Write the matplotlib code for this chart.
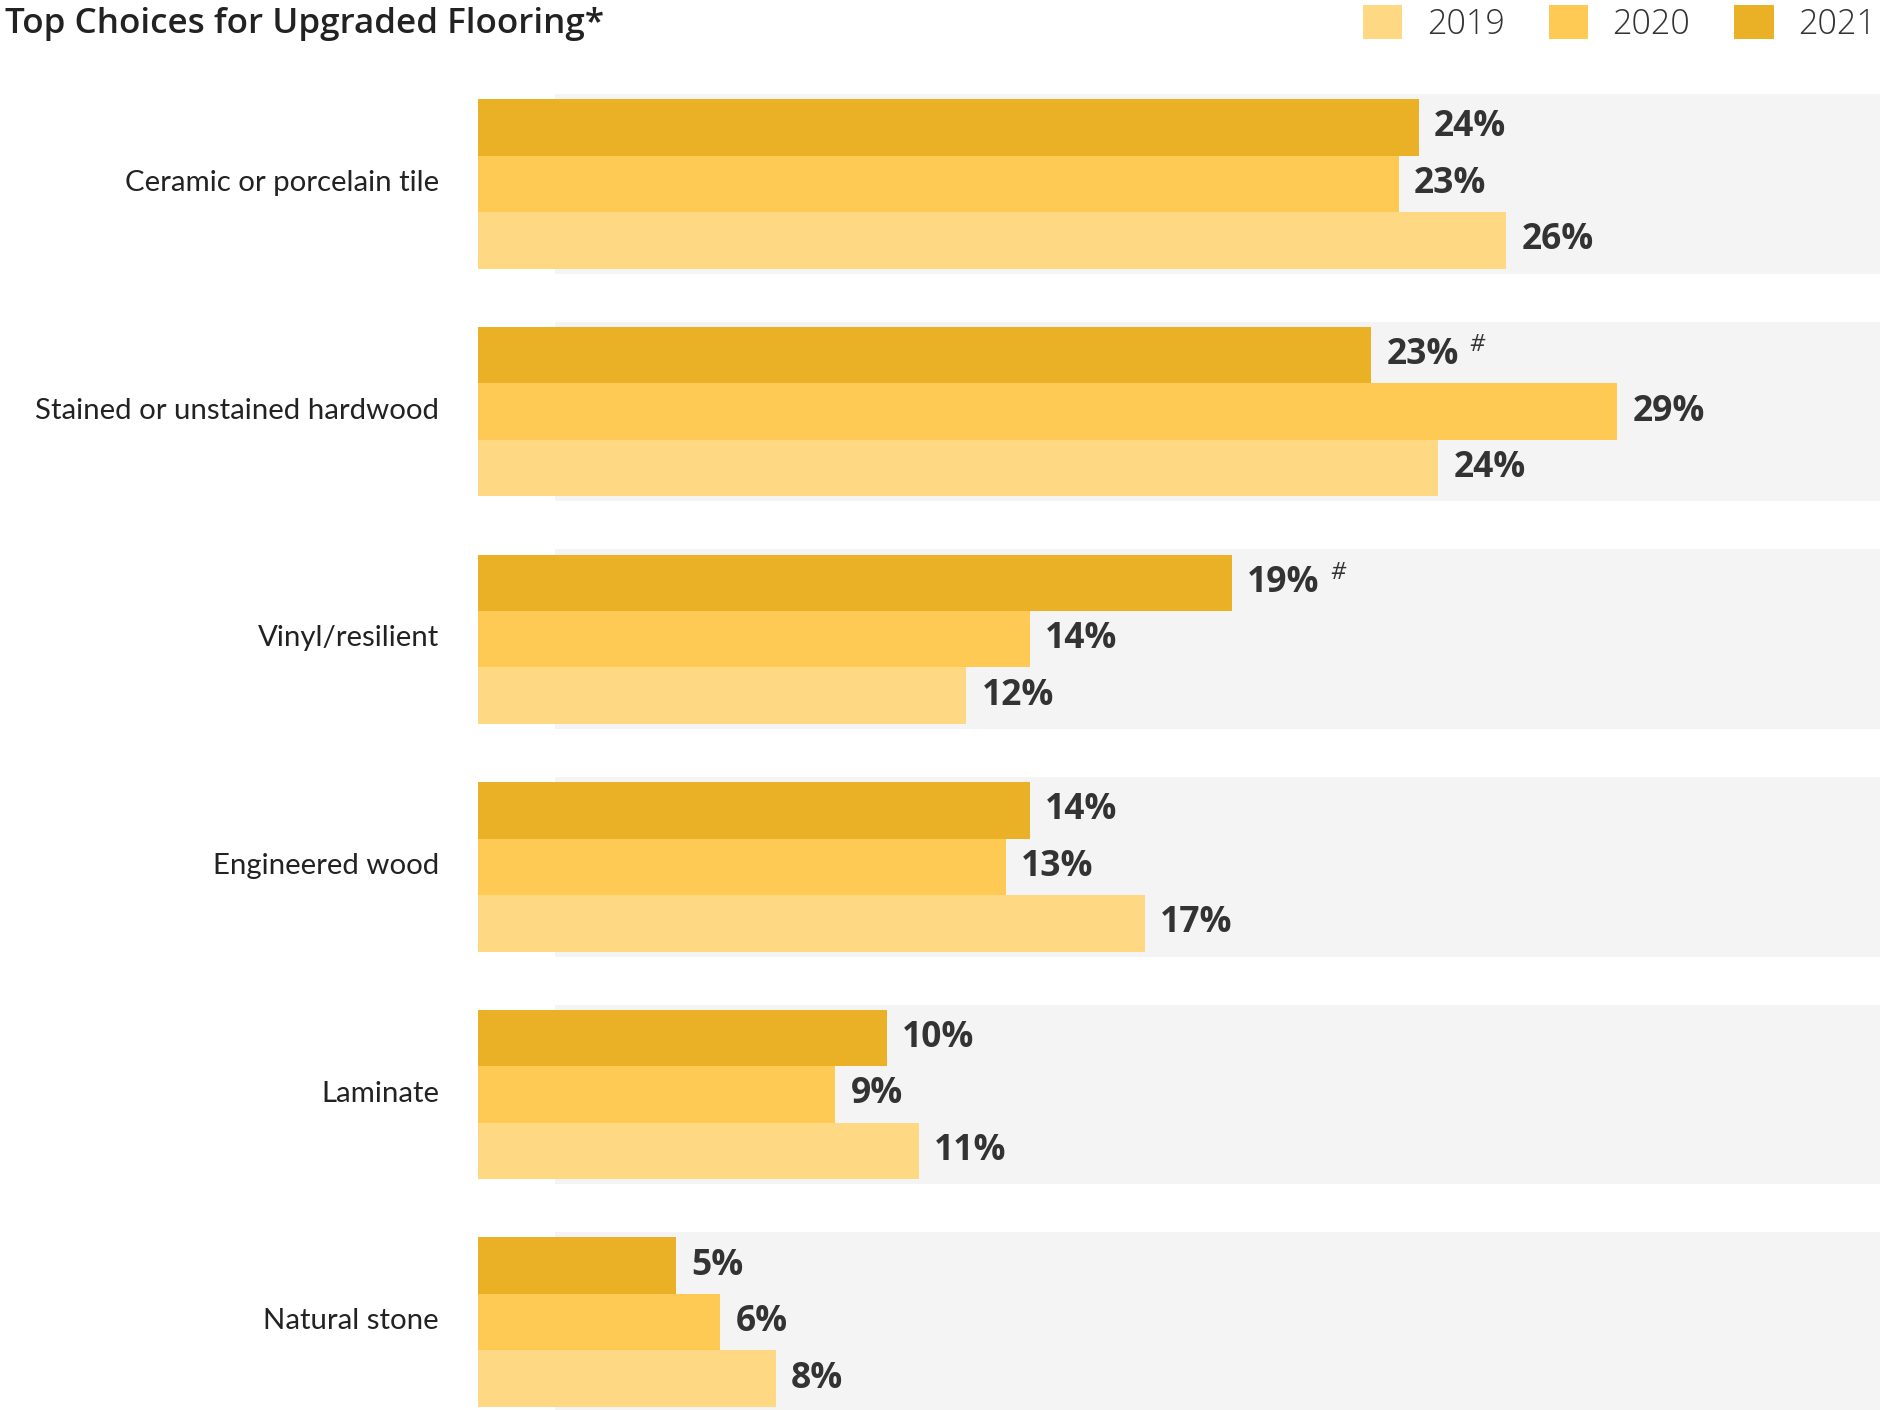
import matplotlib
matplotlib.use('Agg')
import matplotlib.pyplot as plt
import numpy as np

categories = ['Ceramic or porcelain tile', 'Stained or unstained hardwood', 'Vinyl/resilient',
              'Engineered wood', 'Laminate', 'Natural stone']
years = ['2019', '2020', '2021']
share_2019 = [25.9, 24.2, 12.3, 16.8, 11.1, 7.5]
share_2020 = [23.2, 28.7, 13.9, 13.3, 9.0, 6.1]
share_2021 = [23.7, 22.5, 19.0, 13.9, 10.3, 5.0]
labels_2019 = ['26%', '24%', '12%', '17%', '11%', '8%']
labels_2020 = ['23%', '29%', '14%', '13%', '9%', '6%']
labels_2021 = ['24%', '23%', '19%', '14%', '10%', '5%']
flag_2021 = ['', '#', '#', '', '', '']

colors = {'2019': '#FFD883', '2020': '#FECA53', '2021': '#EBB126'}
bg_color = '#F4F4F4'
text_color = '#333333'

fig = plt.figure(figsize=(18.81, 14.10), dpi=100)
ax = fig.add_axes([478 / 1881, 0.0, 1 - 478 / 1881, 1 - 94 / 1410])

y = np.arange(len(categories))
h = 0.248
xmax = 35.35
bg_start = 1.93

for yi in y:
    ax.axhspan(yi - 0.395, yi + 0.395, xmin=bg_start / xmax, xmax=1, color=bg_color, lw=0, zorder=0)

series = [('2021', share_2021, labels_2021, -h), ('2020', share_2020, labels_2020, 0), ('2019', share_2019, labels_2019, h)]
handles = {}
for year, vals, labs, off in series:
    bars = ax.barh(y + off, vals, height=h, color=colors[year], lw=0, zorder=2, label=year)
    handles[year] = bars
    for i, (v, lab) in enumerate(zip(vals, labs)):
        ax.annotate(lab, (v, y[i] + off), xytext=(11, 0), textcoords='offset points',
                    ha='left', va='center', fontsize=25.5, fontweight='bold', color=text_color,
                    family='Open Sans', zorder=3)
        if year == '2021' and flag_2021[i]:
            ax.annotate(flag_2021[i], (v, y[i] + off), xytext=(71, 7), textcoords='offset points',
                        ha='left', va='center', fontsize=17, style='italic', color=text_color,
                        family='Open Sans', zorder=3)

ax.set_xlim(0, xmax)
ax.set_ylim(5.386, -0.395)
ax.set_yticks(y - 0.015)
ax.set_yticklabels(categories, fontsize=21.2, color='#222222', family='Lato')
ax.tick_params(axis='y', length=0, pad=28)
ax.set_xticks([])
for s in ax.spines.values():
    s.set_visible(False)

fig.text(5 / 1881, 1 - 24 / 1410, 'Top Choices for Upgraded Flooring*', fontsize=25.2,
         fontweight='semibold', color='#222222', family='Open Sans', ha='left', va='center')

leg = fig.legend([handles[yr] for yr in years], years, loc='upper right', bbox_to_anchor=(1.0, 1.0),
                 ncol=3, frameon=False, fontsize=24.5, handlelength=1.15, handleheight=1.15,
                 handletextpad=0.72, columnspacing=1.3, borderaxespad=0.05, borderpad=0.1)
for t in leg.get_texts():
    t.set_color(text_color)
    t.set_family('Open Sans')
    t.set_fontweight('light')

fig.savefig('out.png', dpi=100)
